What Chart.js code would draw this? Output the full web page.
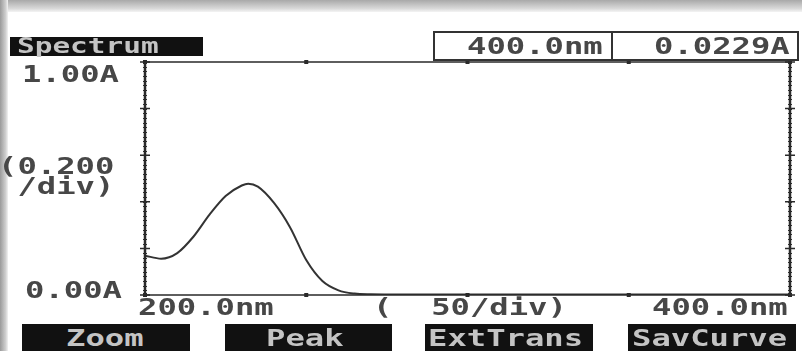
<!DOCTYPE html>
<html>
<head>
<meta charset="utf-8">
<script src="https://cdn.jsdelivr.net/npm/chart.js@4.4.1/dist/chart.umd.min.js"></script>
<style>
  html,body{margin:0;padding:0;}
  body{width:802px;height:351px;position:relative;overflow:hidden;background:#fff;}
  #topband{position:absolute;left:0;top:0;width:802px;height:12px;background:linear-gradient(#a9a9a9,#d8d8d8 70%,#f4f4f4);}
  #leftband{position:absolute;left:0;top:0;width:8px;height:351px;background:linear-gradient(90deg,#9a9a9a,#cfcfcf 70%,#f2f2f2);}
  canvas{position:absolute;left:0;top:0;}
  .t{position:absolute;font-family:"DejaVu Sans Mono",monospace;font-weight:bold;font-size:23px;line-height:23px;color:#474747;white-space:pre;transform-origin:0 0;transform:scaleX(1.4);}
  .bar{position:absolute;background:#111;}
  .bt{color:#c4c4c4;}
  .box{position:absolute;border:2px solid #333;box-sizing:border-box;}
</style>
</head>
<body>
<div id="topband"></div>
<div id="leftband"></div>
<canvas id="c" width="802" height="351"></canvas>

<div class="bar" style="left:10px;top:37px;width:193px;height:19px;"></div>
<div class="t bt" id="title" style="left:17px;top:35px;font-size:21px;">Spectrum</div>

<div class="box" style="left:433px;top:31px;width:180px;height:30px;"></div>
<div class="box" style="left:611px;top:31px;width:188px;height:30px;"></div>
<div class="t" id="rd1" style="left:467px;top:35px;">400.0nm</div>
<div class="t" id="rd2" style="left:654px;top:35px;">0.0229A</div>

<div class="t" id="ymax" style="left:22px;top:63px;">1.00A</div>
<div class="t" id="yunit1" style="left:-2px;top:155px;">(0.200</div>
<div class="t" id="yunit2" style="left:-2px;top:175px;"> /div)</div>
<div class="t" id="ymin" style="left:25px;top:279px;">0.00A</div>

<div class="t" id="xmin" style="left:138px;top:296px;">200.0nm</div>
<div class="t" id="xunit" style="left:373px;top:296px;">(  50/div)</div>
<div class="t" id="xmax" style="left:652px;top:296px;">400.0nm</div>

<div class="bar" style="left:22px;top:324px;width:168px;height:27px;"></div>
<div class="bar" style="left:225px;top:324px;width:167px;height:27px;"></div>
<div class="bar" style="left:425px;top:324px;width:168px;height:27px;"></div>
<div class="bar" style="left:628px;top:324px;width:168px;height:27px;"></div>
<div class="t bt" style="left:66px;top:327px;">Zoom</div>
<div class="t bt" style="left:266px;top:327px;">Peak</div>
<div class="t bt" style="left:428px;top:327px;">ExtTrans</div>
<div class="t bt" style="left:632px;top:327px;">SavCurve</div>

<script>
// Data
const wavelengths = [200,205,210,215,220,225,230,232,235,240,245,250,255,260,265,270,280,300,320,340,360,380,400];
const absorbance  = [0.169,0.156,0.180,0.250,0.345,0.425,0.470,0.478,0.465,0.395,0.290,0.150,0.060,0.020,0.006,0.003,0.002,0.002,0.002,0.002,0.002,0.002,0.002];
const xTicks = [200,250,300,350,400];
const yTicks = [0,0.2,0.4,0.6,0.8,1.0];
const yMinor = [];
for (let i = 0; i <= 50; i++) yMinor.push(i / 50);

const points = wavelengths.map((w, i) => ({x: w, y: absorbance[i]}));

const framePlugin = {
  id: 'frame',
  afterDraw(chart) {
    const ctx = chart.ctx, a = chart.chartArea;
    const xs = chart.scales.x, ys = chart.scales.y;
    ctx.save();
    ctx.strokeStyle = '#2a2a2a';
    ctx.lineWidth = 1.5;
    ctx.beginPath();
    ctx.moveTo(a.left, a.top); ctx.lineTo(a.right, a.top);
    ctx.moveTo(a.left, a.bottom); ctx.lineTo(a.right, a.bottom);
    ctx.stroke();
    ctx.lineWidth = 2.5;
    ctx.beginPath();
    ctx.moveTo(a.left, a.top - 2); ctx.lineTo(a.left, a.bottom);
    ctx.moveTo(a.right, a.top); ctx.lineTo(a.right, a.bottom);
    ctx.stroke();
    ctx.lineWidth = 1;
    ctx.beginPath();
    yMinor.forEach(v => {
      const p = Math.round(ys.getPixelForValue(v)) + 0.5;
      ctx.moveTo(a.left - 2, p); ctx.lineTo(a.left + 2, p);
      ctx.moveTo(a.right - 2, p); ctx.lineTo(a.right + 2, p);
    });
    ctx.stroke();
    ctx.lineWidth = 1.5;
    ctx.beginPath();
    yTicks.forEach(v => {
      const p = ys.getPixelForValue(v);
      ctx.moveTo(a.left - 5, p); ctx.lineTo(a.left + 5, p);
      ctx.moveTo(a.right - 5, p); ctx.lineTo(a.right + 5, p);
    });
    ctx.stroke();
    ctx.fillStyle = '#2a2a2a';
    xTicks.forEach(v => {
      const p = xs.getPixelForValue(v);
      ctx.fillRect(p - 2, a.top - 2, 4, 4);
      ctx.fillRect(p - 2, a.bottom - 2, 4, 4);
    });
    ctx.restore();
  }
};

new Chart(document.getElementById('c'), {
  type: 'line',
  data: {
    datasets: [{
      data: points,
      borderColor: '#333333',
      borderWidth: 2,
      pointRadius: 0,
      cubicInterpolationMode: 'monotone',
      fill: false
    }]
  },
  options: {
    responsive: false,
    animation: false,
    devicePixelRatio: 1,
    layout: {padding: {left: 145, top: 62, right: 12, bottom: 56}},
    plugins: {legend: {display: false}, tooltip: {enabled: false}},
    scales: {
      x: {type: 'linear', min: 200, max: 400, display: false},
      y: {type: 'linear', min: 0, max: 1, display: false}
    }
  },
  plugins: [framePlugin]
});
</script>
</body>
</html>
